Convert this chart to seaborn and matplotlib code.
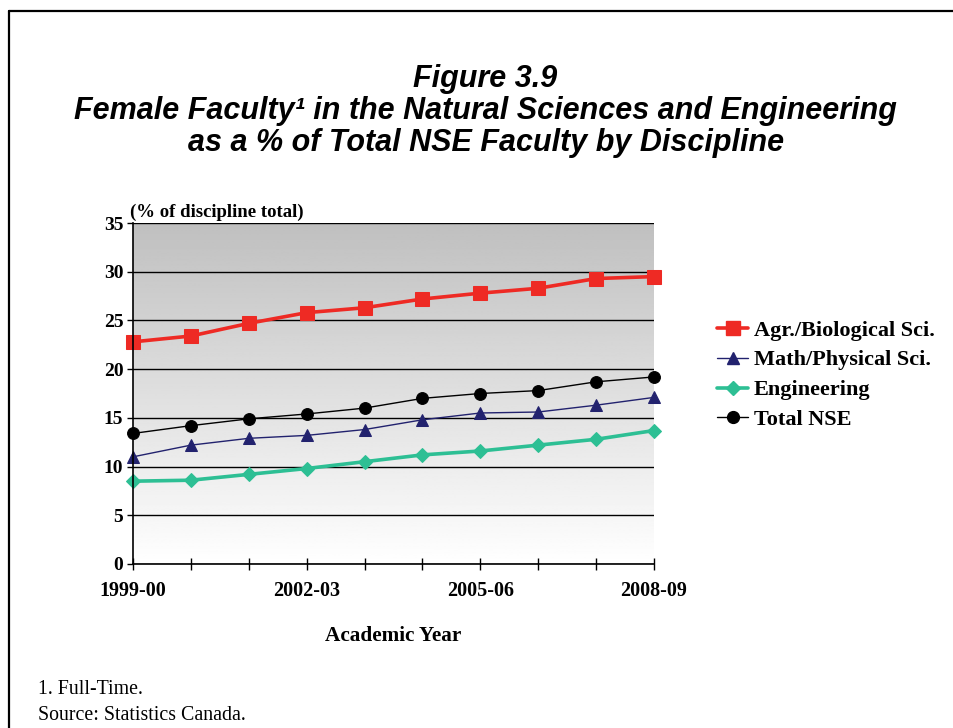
"""Female faculty in NSE as % of total NSE faculty, by discipline."""
import numpy as np
import pandas as pd
import seaborn as sns
import matplotlib.pyplot as plt
from matplotlib.lines import Line2D

years = ["1999-00", "2000-01", "2001-02", "2002-03", "2003-04",
         "2004-05", "2005-06", "2006-07", "2007-08", "2008-09"]
shown_years = ["1999-00", "2002-03", "2005-06", "2008-09"]

agr_bio = [22.8, 23.4, 24.7, 25.8, 26.3, 27.2, 27.8, 28.3, 29.3, 29.5]
math_phys = [11.0, 12.2, 12.9, 13.2, 13.8, 14.8, 15.5, 15.6, 16.3, 17.1]
engineering = [8.5, 8.6, 9.2, 9.8, 10.5, 11.2, 11.6, 12.2, 12.8, 13.7]
total_nse = [13.4, 14.2, 14.9, 15.4, 16.0, 17.0, 17.5, 17.8, 18.7, 19.2]

series_names = ["Agr./Biological Sci.", "Math/Physical Sci.", "Engineering", "Total NSE"]
series_values = [agr_bio, math_phys, engineering, total_nse]
colors = ["#ee2a24", "#22226e", "#2dbf94", "#000000"]
markers = ["s", "^", "D", "o"]
marker_sizes = [9.5, 8.5, 7, 8.5]
line_widths = [2.6, 1.0, 2.6, 1.0]

sns.set_style("white")
plt.rcParams["font.family"] = ["Liberation Serif", "DejaVu Serif"]
plt.rcParams["text.color"] = "black"
plt.rcParams["axes.labelcolor"] = "black"
plt.rcParams["xtick.color"] = "black"
plt.rcParams["ytick.color"] = "black"

fig = plt.figure(figsize=(9.54, 7.28), dpi=100)
ax = fig.add_axes([133 / 954, 1 - 564 / 728, 521 / 954, 341 / 728])

# grey-to-white gradient behind the plot
grad = np.linspace(0.75, 1.0, 256).reshape(-1, 1)
ax.imshow(grad, cmap="gray", vmin=0, vmax=1, aspect="auto", origin="upper",
          extent=[0, len(years) - 1, 0, 35], zorder=0)

df = pd.DataFrame({"Year": years})
df["idx"] = range(len(years))
for name, vals, c, m, ms, lw in zip(series_names, series_values, colors,
                                    markers, marker_sizes, line_widths):
    df[name] = vals
    sns.lineplot(data=df, x="idx", y=name, ax=ax, color=c, marker=m,
                 markersize=ms, linewidth=lw, markeredgecolor=c,
                 label=name, zorder=3, legend=False, clip_on=False)

ax.set_xlim(0, len(years) - 1)
ax.set_ylim(0, 35)
ax.set_yticks(range(0, 36, 5))
ax.yaxis.grid(True, color="black", linewidth=1.0)
for gl in ax.get_ygridlines():
    gl.set_zorder(1)
ax.set_xticks(range(len(years)))
ax.set_xticklabels([y if y in shown_years else "" for y in years])
ax.tick_params(axis="x", bottom=True, direction="inout", length=9, width=1,
               color="black", pad=8, labelsize=14.5)
ax.tick_params(axis="y", left=True, direction="out", length=4, width=1,
               color="black", pad=3, labelsize=14)
for lab in ax.get_xticklabels() + ax.get_yticklabels():
    lab.set_fontweight("bold")

for side in ["top", "right"]:
    ax.spines[side].set_visible(False)
for side in ["left", "bottom"]:
    ax.spines[side].set_color("black")
    ax.spines[side].set_linewidth(1.2)
    ax.spines[side].set_zorder(4)

ax.set_xlabel("Academic Year", fontsize=15.3, fontweight="bold", labelpad=18)
ax.set_ylabel("")
ax.text(-0.005, 1.005, "(% of discipline total)", transform=ax.transAxes,
        fontsize=13.5, fontweight="bold", ha="left", va="bottom")

handles = [Line2D([], [], color=c, marker=m, markersize=ms, linewidth=lw,
                  markeredgecolor=c)
           for c, m, ms, lw in zip(colors, markers, marker_sizes, line_widths)]
fig.legend(handles, series_names, loc="upper left",
           bbox_to_anchor=(697 / 954, 1 - 300 / 728), frameon=False,
           handlelength=1.4, handletextpad=0.25, labelspacing=0.42,
           prop={"family": "Liberation Serif", "weight": "bold", "size": 16})

title_font = {"family": "Liberation Sans", "weight": "bold",
              "style": "italic", "size": 22}
fig.text(0.509, 1 - 79 / 728, "Figure 3.9", ha="center", va="center", **title_font)
fig.text(0.509, 1 - 111 / 728,
         "Female Faculty\u00b9 in the Natural Sciences and Engineering",
         ha="center", va="center", **title_font)
fig.text(0.509, 1 - 143 / 728, "as a % of Total NSE Faculty by Discipline",
         ha="center", va="center", **title_font)

fig.text(38 / 954, 1 - 690 / 728, "1. Full-Time.", fontsize=14.3, va="center")
fig.text(38 / 954, 1 - 715 / 728, "Source: Statistics Canada.", fontsize=14.3,
         va="center")

# page frame (left and top edges)
fig.add_artist(Line2D([9 / 954, 9 / 954], [0, 1 - 11 / 728], color="black",
                      linewidth=1.6, transform=fig.transFigure))
fig.add_artist(Line2D([9 / 954, 1], [1 - 11 / 728, 1 - 11 / 728], color="black",
                      linewidth=1.6, transform=fig.transFigure))

fig.savefig("out.png", dpi=100, facecolor="white")
plt.close(fig)
